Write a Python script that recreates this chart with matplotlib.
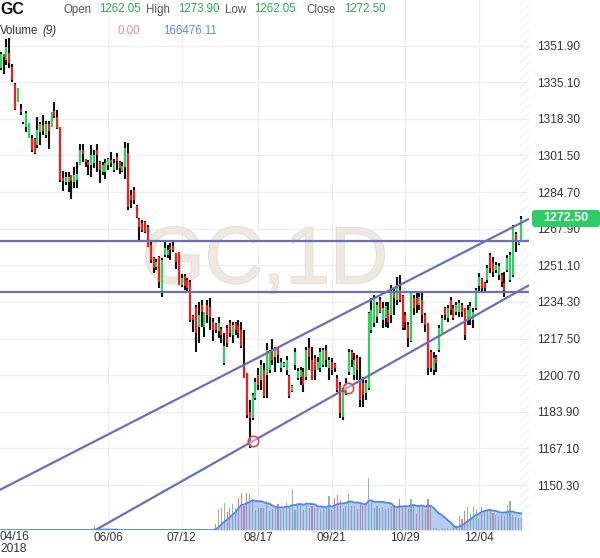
import numpy as np
import pandas as pd
import matplotlib
matplotlib.use("Agg")
import matplotlib.pyplot as plt
import matplotlib.patheffects as pe
from matplotlib.patches import Rectangle, FancyBboxPatch
from matplotlib.transforms import Affine2D

plt.rcParams['font.family'] = ['Liberation Sans', 'DejaVu Sans']
plt.rcParams['hatch.linewidth'] = 0.6

# ---- data (daily bars, 2018-04-16 .. last bar) ----
symbol = "GC"
opens = [
    1341.5, 1348.0, 1345.3, 1348.5, 1342.2, 1334.3, 1326.0, 1322.8, 1316.4, 1314.5,
    1309.5, 1309.5, 1309.0, 1306.3, 1312.2, 1315.5, 1310.9, 1315.9, 1314.5, 1321.9,
    1319.1, 1314.5, 1291.2, 1289.3, 1289.3, 1292.5, 1289.3, 1290.2, 1297.1, 1304.0,
    1299.9, 1298.5, 1297.1, 1298.0, 1304.0, 1298.5, 1293.9, 1293.9, 1297.1, 1299.4,
    1294.8, 1300.8, 1298.5, 1294.4, 1296.2, 1302.6, 1283.4, 1285.6, 1278.3, 1272.3,
    1270.5, 1271.0, 1268.7, 1260.4, 1254.5, 1250.3, 1254.9, 1238.9, 1255.8, 1255.8,
    1259.5, 1260.0, 1256.7, 1257.2, 1242.1, 1246.2, 1244.4, 1243.4, 1227.9, 1232.0,
    1222.8, 1232.9, 1222.8, 1232.9, 1232.0, 1225.1, 1224.2, 1221.0, 1221.9, 1206.3,
    1222.3, 1224.6, 1219.1, 1224.6, 1223.3, 1221.4, 1205.4, 1201.7, 1183.8, 1181.1,
    1190.2, 1200.8, 1198.5, 1203.1, 1200.8, 1203.1, 1211.8, 1209.0, 1213.2, 1204.0,
    1204.9, 1203.1, 1200.3, 1193.4, 1205.4, 1199.4, 1199.9, 1202.2, 1199.9, 1213.2,
    1207.7, 1208.6, 1203.1, 1204.0, 1205.4, 1212.3, 1204.0, 1206.8, 1205.8, 1199.4,
    1196.2, 1181.5, 1193.9, 1202.2, 1211.3, 1200.8, 1208.6, 1198.5, 1197.1, 1192.5,
    1194.8, 1221.4, 1224.6, 1227.4, 1235.2, 1226.0, 1226.9, 1230.6, 1228.3, 1238.9,
    1235.2, 1239.8, 1237.0, 1228.3, 1223.7, 1216.4, 1236.1, 1236.1, 1232.9, 1235.2,
    1228.3, 1224.6, 1211.3, 1203.1, 1209.0, 1212.3, 1220.1, 1231.5, 1226.9, 1235.2,
    1231.5, 1229.7, 1229.7, 1232.9, 1231.5, 1226.0, 1226.9, 1226.0, 1231.5, 1241.6,
    1244.8, 1243.0, 1244.4, 1255.8, 1252.2, 1248.9, 1246.7, 1246.7, 1243.0, 1248.9,
    1244.4, 1246.7, 1265.5, 1260.9, 1262.05,
]
highs = [
    1349.1, 1348.0, 1354.9, 1355.5, 1343.4, 1334.7, 1332.4, 1325.1, 1316.8, 1321.9,
    1316.4, 1310.9, 1309.5, 1319.1, 1316.8, 1320.0, 1317.3, 1317.3, 1321.4, 1326.0,
    1322.3, 1314.5, 1294.4, 1293.9, 1293.9, 1292.5, 1296.2, 1298.5, 1306.7, 1306.7,
    1299.9, 1299.4, 1306.3, 1304.0, 1306.7, 1299.0, 1298.5, 1299.9, 1300.3, 1303.1,
    1299.9, 1302.6, 1299.0, 1298.5, 1307.7, 1307.2, 1285.6, 1287.0, 1278.8, 1272.8,
    1271.9, 1271.4, 1269.6, 1261.8, 1254.9, 1254.0, 1255.4, 1254.5, 1262.2, 1260.4,
    1261.3, 1261.8, 1256.7, 1257.2, 1247.1, 1247.1, 1245.3, 1244.4, 1228.3, 1232.9,
    1234.3, 1235.2, 1229.7, 1235.2, 1236.1, 1226.9, 1224.6, 1227.4, 1222.8, 1220.0,
    1223.7, 1226.0, 1225.1, 1225.1, 1226.0, 1225.1, 1221.4, 1201.7, 1189.3, 1192.5,
    1199.4, 1204.0, 1207.7, 1206.3, 1215.5, 1212.3, 1217.3, 1213.6, 1213.6, 1208.6,
    1206.8, 1209.5, 1200.8, 1196.2, 1213.2, 1204.0, 1204.5, 1204.0, 1213.6, 1217.8,
    1213.6, 1209.9, 1209.0, 1213.2, 1213.2, 1214.5, 1209.0, 1208.6, 1206.3, 1200.8,
    1197.6, 1194.8, 1199.4, 1212.7, 1212.3, 1210.9, 1209.9, 1209.0, 1199.9, 1198.5,
    1229.7, 1236.1, 1237.5, 1234.3, 1236.6, 1234.3, 1234.3, 1234.3, 1242.1, 1241.2,
    1245.7, 1246.7, 1237.5, 1229.7, 1225.1, 1238.9, 1237.5, 1238.4, 1238.9, 1238.4,
    1229.2, 1224.6, 1212.3, 1211.3, 1209.9, 1223.7, 1228.3, 1232.0, 1232.9, 1236.6,
    1232.9, 1234.3, 1235.2, 1233.8, 1231.5, 1232.9, 1234.3, 1231.5, 1240.7, 1247.6,
    1245.3, 1243.4, 1251.2, 1256.7, 1254.9, 1252.6, 1252.2, 1247.6, 1248.0, 1255.8,
    1257.2, 1269.6, 1266.4, 1262.7, 1273.9,
]
lows = [
    1340.7, 1338.9, 1343.0, 1341.7, 1335.3, 1322.3, 1326.0, 1320.0, 1315.9, 1312.3,
    1309.5, 1303.1, 1302.2, 1304.9, 1306.3, 1310.9, 1309.5, 1304.5, 1314.5, 1318.7,
    1313.6, 1289.3, 1285.2, 1287.9, 1284.7, 1281.5, 1286.6, 1286.6, 1297.1, 1298.5,
    1296.2, 1292.5, 1291.6, 1295.7, 1293.9, 1288.9, 1292.5, 1290.7, 1294.8, 1296.2,
    1293.9, 1294.8, 1293.0, 1293.9, 1290.7, 1276.5, 1277.4, 1279.2, 1272.8, 1262.7,
    1266.4, 1265.9, 1259.5, 1252.2, 1247.6, 1248.9, 1240.7, 1236.6, 1254.9, 1254.5,
    1253.5, 1257.2, 1249.4, 1242.1, 1241.2, 1239.8, 1238.4, 1225.1, 1220.5, 1211.4,
    1215.5, 1222.8, 1218.2, 1224.6, 1221.4, 1216.4, 1220.0, 1217.8, 1215.5, 1205.4,
    1213.6, 1218.2, 1215.5, 1219.1, 1217.8, 1213.2, 1199.4, 1181.1, 1167.3, 1180.1,
    1189.3, 1193.9, 1193.9, 1190.2, 1190.2, 1201.7, 1205.4, 1202.2, 1206.3, 1202.2,
    1204.5, 1200.8, 1190.2, 1193.0, 1203.1, 1198.5, 1196.2, 1193.0, 1198.5, 1203.1,
    1198.5, 1198.5, 1203.1, 1202.2, 1204.5, 1204.5, 1198.5, 1200.8, 1202.2, 1193.0,
    1181.1, 1180.1, 1191.6, 1200.8, 1204.5, 1198.5, 1198.5, 1186.1, 1186.1, 1189.3,
    1193.9, 1220.1, 1222.8, 1224.6, 1229.2, 1222.3, 1222.8, 1222.3, 1224.6, 1228.3,
    1232.9, 1234.3, 1221.4, 1221.4, 1213.6, 1215.9, 1228.3, 1229.2, 1230.6, 1224.6,
    1220.5, 1200.8, 1202.2, 1200.8, 1202.2, 1211.3, 1220.1, 1226.0, 1225.1, 1228.3,
    1226.0, 1228.3, 1227.4, 1227.4, 1216.8, 1223.7, 1223.7, 1222.3, 1230.6, 1238.9,
    1238.9, 1238.9, 1243.0, 1247.6, 1245.7, 1247.6, 1244.4, 1241.2, 1236.6, 1248.0,
    1243.4, 1245.7, 1257.2, 1260.4, 1262.05,
]
closes = [
    1347.9, 1346.6, 1351.4, 1343.9, 1336.1, 1322.8, 1332.4, 1321.4, 1316.4, 1321.0,
    1316.4, 1304.0, 1302.6, 1313.2, 1315.9, 1312.7, 1315.9, 1312.7, 1321.4, 1319.6,
    1314.1, 1290.2, 1289.8, 1291.6, 1291.6, 1289.8, 1292.5, 1293.0, 1304.0, 1302.2,
    1298.5, 1297.1, 1301.7, 1301.7, 1301.7, 1294.8, 1297.1, 1298.0, 1299.9, 1298.0,
    1298.0, 1299.0, 1295.7, 1296.7, 1304.9, 1277.8, 1281.1, 1281.1, 1273.3, 1268.7,
    1267.3, 1266.4, 1259.5, 1253.5, 1249.9, 1252.6, 1243.4, 1253.5, 1259.0, 1258.1,
    1258.1, 1258.1, 1252.6, 1242.1, 1245.3, 1241.6, 1240.7, 1226.0, 1226.0, 1220.0,
    1228.3, 1229.7, 1229.7, 1228.3, 1227.4, 1221.4, 1221.4, 1224.6, 1219.1, 1214.1,
    1215.5, 1220.0, 1223.7, 1221.4, 1220.0, 1214.1, 1199.4, 1182.4, 1181.1, 1191.6,
    1197.6, 1196.2, 1205.4, 1191.2, 1212.3, 1211.3, 1207.7, 1212.3, 1210.0, 1206.8,
    1206.3, 1207.7, 1191.2, 1195.7, 1211.3, 1202.6, 1203.1, 1196.2, 1212.3, 1209.0,
    1198.5, 1203.1, 1206.8, 1211.3, 1212.3, 1207.7, 1207.7, 1203.1, 1204.0, 1193.9,
    1183.4, 1193.0, 1197.1, 1211.3, 1207.7, 1207.7, 1203.1, 1189.3, 1191.6, 1197.1,
    1229.2, 1230.6, 1236.1, 1232.9, 1229.7, 1231.5, 1232.4, 1225.1, 1238.4, 1236.1,
    1242.1, 1235.2, 1222.3, 1225.1, 1217.8, 1238.4, 1231.5, 1232.9, 1236.6, 1228.3,
    1223.7, 1204.0, 1204.0, 1208.6, 1206.3, 1222.3, 1226.9, 1228.3, 1231.5, 1230.6,
    1226.9, 1232.9, 1233.8, 1229.7, 1219.1, 1230.6, 1232.4, 1229.7, 1239.8, 1245.7,
    1240.7, 1240.7, 1249.9, 1249.9, 1248.0, 1251.2, 1250.8, 1243.4, 1239.8, 1254.5,
    1255.8, 1268.2, 1261.8, 1262.2, 1272.5,
]
# volume in thousands of contracts (feed only has volume from mid-August)
volumes = (
    [0] * 33 + [40] + [0] * 42 +
    [57, 207, 220, 267, 180, 220, 257, 220, 317, 367,
     240, 367, 357, 307, 197, 220, 220, 220, 290, 190,
     207, 240, 257, 200, 213, 273, 240, 413, 200, 273,
     267, 200, 280, 220, 240, 220, 220, 207, 240, 220,
     340, 200, 323, 347, 300, 220, 240, 357, 240, 240,
     213, 280, 257, 273, 520, 300, 220, 240, 220, 233,
     213, 220, 240, 247, 207, 307, 240, 240, 207, 307,
     257, 157, 247, 240, 213, 313, 240, 23, 23, 13,
     23, 13, 20, 13, 40, 40, 140, 107, 190, 233,
     173, 233, 207, 123, 233, 200, 190, 207, 173, 150,
     140, 150, 140, 250, 290, 150, 130, 125, 123]
)
vol_period = 9

date_labels = ["06/06", "07/12", "08/17", "09/21", "10/29", "12/04"]
date_bars = [38, 64, 91, 117, 143, 169]
price_ticks = [1150.30, 1167.10, 1183.90, 1200.70, 1217.50, 1234.30, 1251.10,
               1267.90, 1284.70, 1301.50, 1318.30, 1335.10, 1351.90]

# drawings
h_levels = [1262.4, 1238.9]
upper_channel = [(70.4, 1195.1), (141.1, 1242.1)]
lower_channel = [(89.3, 1170.6), (122.6, 1195.0)]

# ---- figure ----
W, H = 600, 558
fig = plt.figure(figsize=(W / 100, H / 100), dpi=100)
ax = fig.add_axes([0, 1 - 530 / H, 529 / W, 530 / H])
ax.set_axisbelow(True)
for s in ax.spines.values():
    s.set_visible(False)

x = np.arange(len(closes))
o = np.array(opens); c = np.array(closes)
up = c >= o
green, red = '#2fcf62', '#f01e1e'
px = Affine2D().scale(1 / W, 1 / H) + fig.transFigure

# watermark
ax.text(265, H - 262, "GC,1D", transform=px, ha='center', va='center', fontsize=58,
        family='Liberation Sans', color='#ede9e0', zorder=1,
        path_effects=[pe.withStroke(linewidth=1.2, foreground='#e3ded2')])

# hatched strip at right edge
ax.add_patch(Rectangle((520 / 529, 0), 9 / 529, 1, transform=ax.transAxes, fill=False,
                       hatch='////', edgecolor='#ebebeb', lw=0, zorder=1))

# bars
ax.vlines(x, lows, highs, colors='#111111', lw=1.5, zorder=3)
ax.vlines(x, o, c, colors=np.where(up, green, red), lw=1.5, zorder=4)

# drawings
line_c = '#6b6fb4'
for lv in h_levels:
    ax.axhline(lv, color=line_c, lw=1.6, zorder=5)
ax.axline(upper_channel[0], upper_channel[1], color=line_c, lw=1.6, zorder=5)
ax.axline(lower_channel[0], lower_channel[1], color=line_c, lw=1.6, zorder=5)
ax.plot([p[0] for p in lower_channel], [p[1] for p in lower_channel], 'o', ms=7.5,
        mfc=(1, 1, 1, 0.45), mec='#e04646', mew=1.2, zorder=6)

ax.set_xlim(-0.25, 186.7)
ax.set_ylim(1129.7, 1372.8)

# volume pane (twinx resets the tick side of ax, so set ticks afterwards)
ax2 = ax.twinx()
ax2.set_ylim(0, 5300)
ax2.axis('off')
vol = np.array(volumes, dtype=float)
ma = pd.Series(vol).rolling(vol_period, min_periods=1).mean()
ax2.bar(x, vol, width=0.4, color=np.where(up, '#86bf96', '#e58080'), lw=0, zorder=2)
ax2.fill_between(x, 0, ma, color='#6e9be8', alpha=0.5, lw=0, zorder=3)
ax2.plot(x, ma, color='#4f88e6', lw=1.3, zorder=4)
ax2.set_xlim(-0.25, 186.7)

ax.yaxis.tick_right()
ax.set_yticks(price_ticks)
ax.set_yticklabels(["%.2f" % t for t in price_ticks])
ax.tick_params(axis='y', which='both', left=False, right=True, labelleft=False, labelright=True,
               length=0, pad=5.8, labelsize=8.6, labelcolor='#333333')
ax.set_xticks(date_bars)
ax.set_xticklabels(date_labels)
ax.tick_params(axis='x', length=0, pad=1.5, labelsize=8.6, labelcolor='#333333')
ax.grid(True, color='#efefef', lw=0.9)

# first date label, clipped to the left edge
fig.text(0, 1 - 537 / H, "04/16", ha='left', va='center', fontsize=8.6, color='#333333')
fig.text(0, 1 - 549 / H, "2018", ha='left', va='center', fontsize=8.6, color='#333333')

# header
def ft(xp, yp, s, **kw):
    fig.text(xp / W, 1 - yp / H, s, va='center', ha='left', **kw)

lbl, grn = '#555555', '#2aa84f'
hs = 8.3
ft(0, 10, symbol, fontsize=11.5, fontweight='bold', color='#111111')
ft(63, 10, "Open", fontsize=hs, color=lbl)
ft(99, 9, "%.2f" % opens[-1], fontsize=hs, color=grn)
ft(146, 10, "High", fontsize=hs, color=lbl)
ft(178, 9, "%.2f" % highs[-1], fontsize=hs, color=grn)
ft(225, 10, "Low", fontsize=hs, color=lbl)
ft(254, 9, "%.2f" % lows[-1], fontsize=hs, color=grn)
ft(306, 10, "Close", fontsize=hs, color=lbl)
ft(344, 9, "%.2f" % closes[-1], fontsize=hs, color=grn)
ft(0, 31, "Volume", fontsize=hs, color='#333333')
ft(42, 31, "(%d)" % vol_period, fontsize=hs, color='#333333', fontstyle='italic')
ft(118, 31, "0.00", fontsize=hs, color='#f08a8a')
ft(163, 31, "%.2f" % 166476.11, fontsize=hs, color='#5b8def')

# last price tag
tag = FancyBboxPatch((532, H - 227), 68, 17, boxstyle='round,pad=0,rounding_size=3',
                     transform=px, fc='#2ecc64', ec='none', zorder=5)
fig.add_artist(tag)
fig.text(566 / W, 1 - 218.5 / H, "%.2f" % closes[-1], ha='center', va='center',
         fontsize=9, fontweight='bold', color='white', zorder=6)

fig.savefig("out.png", dpi=100)
